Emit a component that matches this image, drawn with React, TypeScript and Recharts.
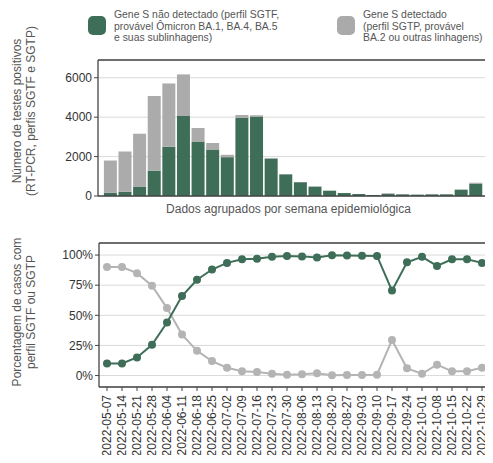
import React from "react";
import { BarChart, Bar, LineChart, Line, XAxis, YAxis, CartesianGrid } from "recharts";

// semanas epidemiológicas (fim da semana)
const weeks = [
  "2022-05-07", "2022-05-14", "2022-05-21", "2022-05-28", "2022-06-04", "2022-06-11",
  "2022-06-18", "2022-06-25", "2022-07-02", "2022-07-09", "2022-07-16", "2022-07-23",
  "2022-07-30", "2022-08-06", "2022-08-13", "2022-08-20", "2022-08-27", "2022-09-03",
  "2022-09-10", "2022-09-17", "2022-09-24", "2022-10-01", "2022-10-08", "2022-10-15",
  "2022-10-22", "2022-10-29",
];

// testes positivos por perfil
const sgtfCounts = [
  170, 220, 460, 1290, 2500, 4060, 2740, 2360, 1970, 3960, 4010, 1900, 1100,
  700, 475, 270, 150, 100, 50, 100, 85, 70, 85, 85, 320, 630,
];
const sgtpCounts = [
  1630, 2040, 2700, 3780, 3210, 2110, 710, 330, 120, 150, 90, 30, 12,
  12, 10, 1, 1, 1, 1, 40, 6, 1, 9, 3, 12, 45,
];

// porcentagem de casos por perfil
const sgtfPct = [
  10, 10, 15, 25.5, 44, 66, 79.5, 88, 93.5, 96.5, 97, 98.5, 99.3,
  98.9, 98, 99.8, 99.6, 99.5, 99.3, 70.5, 94, 98.5, 91, 96.5, 96.5, 93.5,
];
const sgtpPct = [
  90, 90, 85, 74.5, 56, 34, 20.5, 12, 6.5, 3.5, 3, 1.5, 0.7,
  1.1, 2, 0.2, 0.4, 0.5, 0.7, 29.5, 6, 1.5, 9, 3.5, 3.5, 6.5,
];

const countTicks = [0, 2000, 4000, 6000];
const pctTicks = [0, 25, 50, 75, 100];

const GREEN = "#3e6e58";
const GRAY_BAR = "#ababab";
const GRAY_LINE = "#b4b4b4";
const AXIS = "#444";
const GRID = "#d9d9d9";
const TEXT = "#333";
const FONT = "'Liberation Sans', Arial, sans-serif";

const countData = weeks.map((week, i) => ({ week, sgtf: sgtfCounts[i], sgtp: sgtpCounts[i] }));
const pctData = weeks.map((week, i) => ({ week, sgtf: sgtfPct[i], sgtp: sgtpPct[i] }));

const legendItems = [
  {
    color: GREEN,
    left: 88,
    lines: ["Gene S não detectado (perfil SGTF,", "provável Ômicron BA.1, BA.4, BA.5", "e suas sublinhagens)"],
  },
  {
    color: "#aaaaaa",
    left: 337,
    lines: ["Gene S detectado", "(perfil SGTP, provável", "BA.2 ou outras linhagens)"],
  },
];

// título do eixo Y em duas linhas, girado
const AxisTitle = (props: any) => {
  const { viewBox, lines, shift = 0 } = props;
  const vb = viewBox ?? { y: 0, height: 0 };
  const cy = vb.y + vb.height / 2 + shift;
  return (
    <text
      transform={`translate(17,${cy}) rotate(-90)`}
      textAnchor="middle"
      fontSize={12}
      fill="#555"
      fontFamily={FONT}
    >
      {lines.map((line: string, i: number) => (
        <tspan key={i} x={0} dy={i === 0 ? "0.35em" : 13.5}>
          {line}
        </tspan>
      ))}
    </text>
  );
};

const DateTick = ({ x, y, payload }: any) => (
  <g transform={`translate(${x},${y})`}>
    <text
      transform="rotate(-90)"
      x={-2}
      y={0}
      dy="0.35em"
      textAnchor="end"
      fontSize={12}
      fill={TEXT}
      fontFamily={FONT}
    >
      {payload.value}
    </text>
  </g>
);

const tickStyle = { fontSize: 12, fill: TEXT, fontFamily: FONT };

export default function App() {
  return (
    <div
      style={{
        position: "relative",
        width: 493,
        height: 463,
        margin: -8,
        background: "#fff",
        fontFamily: FONT,
        overflow: "hidden",
      }}
    >
      {/* legenda */}
      {legendItems.map((item) => (
        <div key={item.color} style={{ position: "absolute", left: item.left, top: 9 }}>
          <div
            style={{
              position: "absolute",
              left: 0,
              top: 7,
              width: 18,
              height: 19,
              borderRadius: 5,
              background: item.color,
            }}
          />
          <div
            style={{
              position: "absolute",
              left: 26,
              top: 0,
              whiteSpace: "nowrap",
              fontSize: 10.4,
              lineHeight: "11.5px",
              color: "#555",
            }}
          >
            {item.lines.map((l) => (
              <div key={l}>{l}</div>
            ))}
          </div>
        </div>
      ))}

      {/* número de testes positivos */}
      <div style={{ position: "absolute", left: 0, top: 0 }}>
        <BarChart
          width={493}
          height={220}
          data={countData}
          margin={{ top: 59, right: 5, left: 0, bottom: 0 }}
          barCategoryGap="6%"
        >
          <CartesianGrid vertical={false} stroke={GRID} strokeWidth={1} />
          <XAxis
            dataKey="week"
            interval={0}
            tick={false}
            tickSize={4}
            height={24}
            padding={{ left: 5, right: 4 }}
            axisLine={{ stroke: AXIS, strokeWidth: 1.3 }}
            tickLine={{ stroke: AXIS }}
            label={{
              value: "Dados agrupados por semana epidemiológica",
              position: "insideBottom",
              offset: 7,
              fontSize: 12,
              fill: "#555",
              fontFamily: FONT,
              dx: -4,
            }}
          />
          <XAxis
            xAxisId="frame"
            dataKey="week"
            orientation="top"
            height={1}
            tick={false}
            tickLine={false}
            axisLine={{ stroke: AXIS, strokeWidth: 1.3 }}
          />
          <YAxis
            width={98}
            domain={[0, 6900]}
            ticks={countTicks}
            tickSize={4}
            tick={tickStyle}
            axisLine={{ stroke: AXIS, strokeWidth: 1.3 }}
            tickLine={{ stroke: AXIS }}
            label={
              <AxisTitle
                lines={["Número de testes positivos", "(RT-PCR, perfis SGTF e SGTP)"]}
                shift={-17}
              />
            }
          />
          <YAxis
            yAxisId="frame"
            orientation="right"
            width={1}
            domain={[0, 1]}
            ticks={[0, 1]}
            tick={false}
            tickLine={false}
            axisLine={{ stroke: AXIS, strokeWidth: 1.3 }}
          />
          <Bar dataKey="sgtf" stackId="a" fill={GREEN} isAnimationActive={false} />
          <Bar dataKey="sgtp" stackId="a" fill={GRAY_BAR} isAnimationActive={false} />
        </BarChart>
      </div>

      {/* porcentagem por perfil */}
      <div style={{ position: "absolute", left: 0, top: 230 }}>
        <LineChart
          width={493}
          height={233}
          data={pctData}
          margin={{ top: 12, right: 4, left: 0, bottom: 0 }}
        >
          <CartesianGrid vertical={false} stroke={GRID} strokeWidth={1} />
          <XAxis
            dataKey="week"
            interval={0}
            tickSize={4}
            height={76}
            padding={{ left: 8, right: 6 }}
            tick={<DateTick />}
            axisLine={{ stroke: AXIS, strokeWidth: 1.3 }}
            tickLine={{ stroke: AXIS }}
          />
          <XAxis
            xAxisId="frame"
            dataKey="week"
            orientation="top"
            height={1}
            tick={false}
            tickLine={false}
            axisLine={{ stroke: AXIS, strokeWidth: 1.3 }}
          />
          <YAxis
            width={99}
            type="number"
            domain={[-9.5, 110]}
            ticks={pctTicks}
            tickSize={4}
            tick={tickStyle}
            tickFormatter={(v) => `${v}%`}
            axisLine={{ stroke: AXIS, strokeWidth: 1.3 }}
            tickLine={{ stroke: AXIS }}
            label={
              <AxisTitle lines={["Porcentagem de casos com", "perfil SGTF ou SGTP"]} shift={-3} />
            }
          />
          <YAxis
            yAxisId="frame"
            orientation="right"
            width={1}
            domain={[0, 1]}
            ticks={[0, 1]}
            tick={false}
            tickLine={false}
            axisLine={{ stroke: AXIS, strokeWidth: 1.3 }}
          />
          <Line
            dataKey="sgtp"
            stroke={GRAY_LINE}
            strokeWidth={2}
            dot={{ r: 4, fill: GRAY_LINE, stroke: GRAY_LINE, strokeWidth: 0 }}
            isAnimationActive={false}
          />
          <Line
            dataKey="sgtf"
            stroke={GREEN}
            strokeWidth={2}
            dot={{ r: 4, fill: GREEN, stroke: GREEN, strokeWidth: 0 }}
            isAnimationActive={false}
          />
        </LineChart>
      </div>
    </div>
  );
}
